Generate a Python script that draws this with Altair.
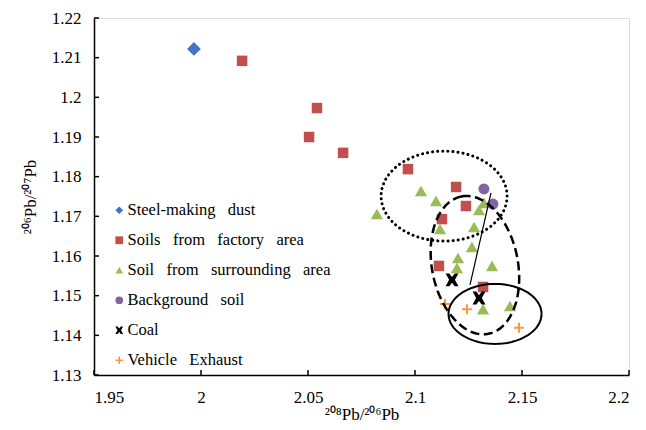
import altair as alt
import numpy as np
import pandas as pd

# ---------------- data ----------------
series_names = [
    "Steel-making\u2002 dust",
    "Soils\u2002 from\u2002 factory\u2002 area",
    "Soil\u2002 from\u2002 surrounding\u2002 area",
    "Background\u2002 soil",
    "Coal",
    "Vehicle\u2002 Exhaust",
]

steel_x = [1.9967]
steel_y = [1.2122]

factory_x = [2.0192, 2.0542, 2.0505, 2.0664, 2.0967, 2.1192, 2.1238, 2.1126, 2.1112, 2.1318]
factory_y = [1.2092, 1.1973, 1.1900, 1.1860, 1.1819, 1.1774, 1.1726, 1.1693, 1.1575, 1.1522]

surround_x = [2.0822, 2.1028, 2.1098, 2.1117, 2.1299, 2.1322, 2.1276, 2.1266, 2.1201, 2.1196, 2.1360, 2.1318, 2.1444]
surround_y = [1.1706, 1.1764, 1.1739, 1.1668, 1.1716, 1.1734, 1.1673, 1.1623, 1.1595, 1.1570, 1.1575, 1.1466, 1.1474]

background_x = [2.1322, 2.1364]
background_y = [1.1769, 1.1731]

coal_x = [2.1173, 2.1299]
coal_y = [1.1540, 1.1494]

vehicle_x = [2.1140, 2.1243, 2.1486]
vehicle_y = [1.1479, 1.1466, 1.1419]

# thin connecting line (annotation)
line_x = [2.1355, 2.1257]
line_y = [1.1759, 1.1527]

x_ticks = [1.95, 2.0, 2.05, 2.1, 2.15, 2.2]
y_ticks = [1.13, 1.14, 1.15, 1.16, 1.17, 1.18, 1.19, 1.20, 1.21, 1.22]

colors = ["#4472C4", "#C0504D", "#9BBB59", "#8064A2", "#000000", "#F79646"]
X_PATH = ("M-1,-1L-0.42,-1L0,-0.45L0.42,-1L1,-1L0.45,0L1,1L0.42,1L0,0.45"
          "L-0.42,1L-1,1L-0.45,0Z")
CROSS_PATH = ("M-0.2,-1L0.2,-1L0.2,-0.2L1,-0.2L1,0.2L0.2,0.2L0.2,1"
              "L-0.2,1L-0.2,0.2L-1,0.2L-1,-0.2L-0.2,-0.2Z")
shapes = ["diamond", "square", "triangle-up", "circle", X_PATH, CROSS_PATH]
sizes = [190, 110, 150, 120, 165, 100]

# ---------------- layout ----------------
W, H = 535, 357
XMIN, XMAX = 1.95, 2.2
YMIN, YMAX = 1.13, 1.22
kx = W / (XMAX - XMIN)   # px per x unit
ky = H / (YMAX - YMIN)   # px per y unit

series_x = [steel_x, factory_x, surround_x, background_x, coal_x, vehicle_x]
series_y = [steel_y, factory_y, surround_y, background_y, coal_y, vehicle_y]


def ellipse(cx, cy, a_px, b_px, ang_deg, n=120):
    t = np.linspace(0, 2 * np.pi, n + 1)
    th = np.deg2rad(ang_deg)
    dx = a_px * np.cos(t) * np.cos(th) - b_px * np.sin(t) * np.sin(th)
    dy = a_px * np.cos(t) * np.sin(th) + b_px * np.sin(t) * np.cos(th)
    return pd.DataFrame({"x": cx + dx / kx, "y": cy + dy / ky, "o": np.arange(n + 1)})


ell_dotted = ellipse(2.1136, 1.1751, 63, 45, 0)
ell_dashed = ellipse(2.1280, 1.1577, 70, 43, 101)
ell_solid = ellipse(2.1374, 1.1454, 46.5, 30, 0)

FONT = "Liberation Serif"

xs = alt.X("x:Q", scale=alt.Scale(domain=[XMIN, XMAX], nice=False, zero=False),
           axis=alt.Axis(values=x_ticks, format=".2~f", ticks=False, grid=False,
                         domainColor="black", domainWidth=1.5, labelOverlap=False,
                         labelFont=FONT, labelFontSize=17, labelColor="black",
                         labelPadding=14,
                         title="\u00b2\u2070\u2078Pb/\u00b2\u2070\u2076Pb",
                         titleFont=FONT, titleFontSize=17, titleFontWeight="normal",
                         titleColor="black", titleBaseline="alphabetic", titleY=44))
ys = alt.Y("y:Q", scale=alt.Scale(domain=[YMIN, YMAX], nice=False, zero=False),
           axis=alt.Axis(values=y_ticks, format=".2~f", ticks=False, grid=False,
                         domainColor="black", domainWidth=1.5, labelOverlap=False,
                         labelFont=FONT, labelFontSize=17, labelColor="black",
                         labelPadding=13,
                         title="\u00b2\u2070\u2076Pb/\u00b2\u2070\u2077Pb",
                         titleFont=FONT, titleFontSize=17, titleFontWeight="normal",
                         titleColor="black", titlePadding=12))

color_enc = alt.Color("series:N", scale=alt.Scale(domain=series_names, range=colors),
                      sort=series_names,
                      legend=alt.Legend(title=None, orient="none", legendX=17, legendY=184,
                                        labelFont=FONT, labelFontSize=16.5,
                                        labelColor="black", symbolSize=60,
                                        symbolStrokeWidth=0, rowPadding=13,
                                        labelOffset=0, padding=0, labelLimit=400))
shape_enc = alt.Shape("series:N", scale=alt.Scale(domain=series_names, range=shapes),
                      sort=series_names)

point_layers = []
for name, xs_, ys_, sz in zip(series_names, series_x, series_y, sizes):
    df = pd.DataFrame({"series": name, "x": xs_, "y": ys_})
    point_layers.append(
        alt.Chart(df).mark_point(filled=True, opacity=1, strokeWidth=0, size=sz).encode(
            x=xs, y=ys, color=color_enc, shape=shape_enc))

line_df = pd.DataFrame({"x": line_x, "y": line_y})
link = alt.Chart(line_df).mark_line(color="black", strokeWidth=1.2).encode(x=xs, y=ys)

e1 = alt.Chart(ell_dotted).mark_line(color="black", strokeWidth=3, strokeCap="round",
                                     strokeDash=[0.1, 5]).encode(
    x=xs, y=ys, order="o:Q")
e2 = alt.Chart(ell_dashed).mark_line(color="black", strokeWidth=2.5,
                                     strokeDash=[9, 4.5]).encode(
    x=xs, y=ys, order="o:Q")
e3 = alt.Chart(ell_solid).mark_line(color="black", strokeWidth=2).encode(
    x=xs, y=ys, order="o:Q")

xt = pd.DataFrame({"x": x_ticks})
yt = pd.DataFrame({"y": y_ticks})
xtick = alt.Chart(xt).mark_rule(color="black", strokeWidth=1.5).encode(
    x=xs, y=alt.value(H), y2=alt.value(H - 5))
ytick = alt.Chart(yt).mark_rule(color="black", strokeWidth=1.5).encode(
    y=ys, x=alt.value(0), x2=alt.value(5))

chart = alt.layer(*point_layers, e1, e2, e3, link, xtick, ytick).properties(
    width=W, height=H,
    autosize=alt.AutoSizeParams(type="none"),
    padding={"left": 86, "top": 10, "right": 8, "bottom": 47},
).configure_view(stroke="black", strokeWidth=1.5).configure(
    background="white", font=FONT)

chart.save("out.html", embed_options={"renderer": "svg", "actions": False})
